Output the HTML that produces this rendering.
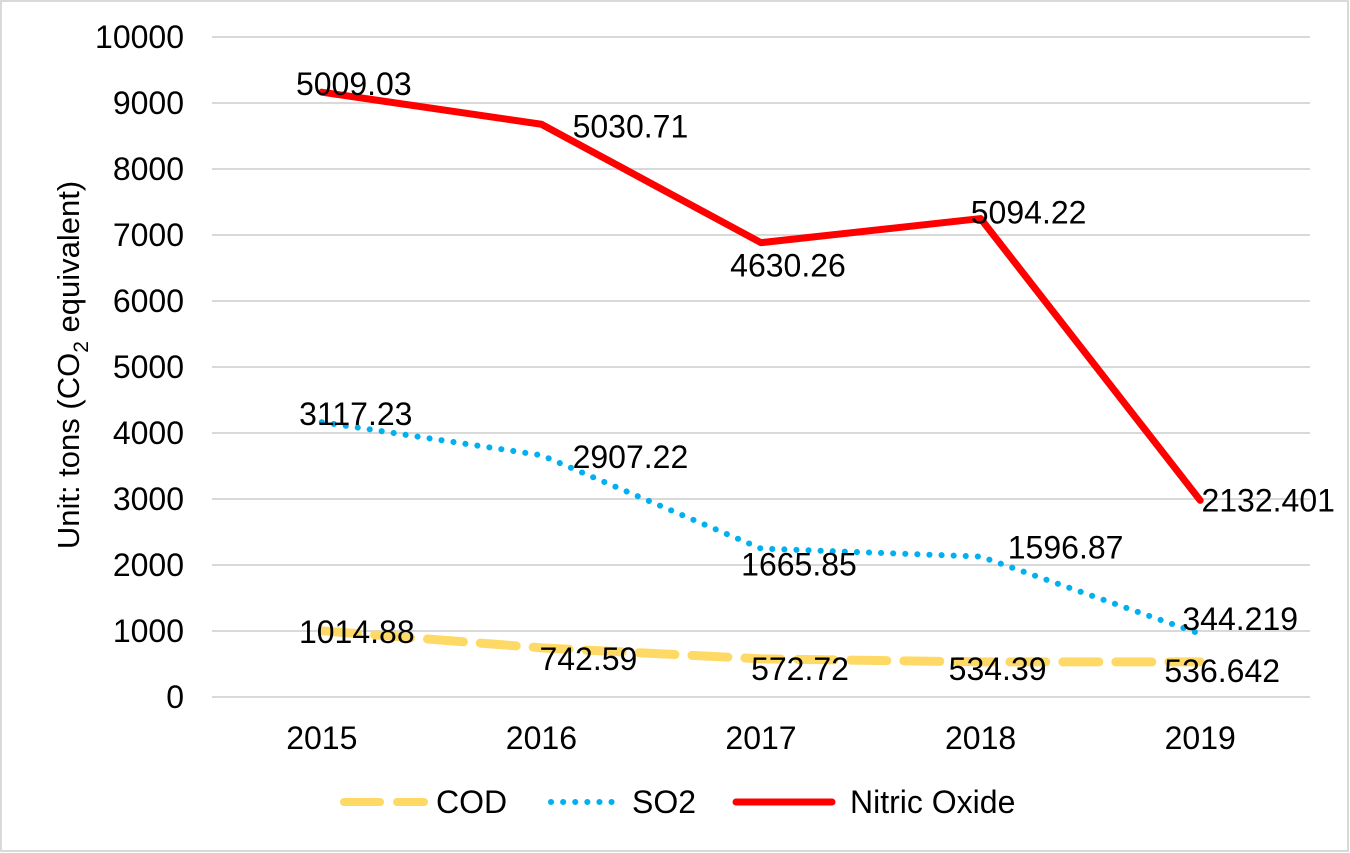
<!DOCTYPE html>
<html><head><meta charset="utf-8"><style>
html,body{margin:0;padding:0;background:#fff;}
svg{display:block;font-family:"Liberation Sans",Arial,sans-serif;}
</style></head><body>
<svg id="chart" width="1350" height="853" viewBox="0 0 1350 853">
<rect x="1" y="1" width="1347" height="850" fill="#fff" stroke="#d9d9d9" stroke-width="2"/>
<g id="grid"></g><g id="axes"></g><g id="series"></g><g id="labels"></g>
<text transform="translate(79,365) rotate(-90)" text-anchor="middle" font-size="31" fill="#000">Unit: tons (CO<tspan font-size="21" dy="9">2</tspan><tspan dy="-9"> equivalent)</tspan></text>
<g>
 <g>
  <line x1="344" y1="802" x2="424" y2="802" stroke="#FFD966" stroke-width="8" stroke-dasharray="36,17" stroke-linecap="round"/>
  <text x="436" y="813" font-size="32">COD</text></g>
 <g>
  <line x1="551" y1="802" x2="620" y2="802" stroke="#00B0F0" stroke-width="6" stroke-dasharray="0.1,12" stroke-linecap="round"/>
  <text x="632" y="813" font-size="32">SO2</text></g>
 <g>
  <line x1="736" y1="802" x2="832" y2="802" stroke="#FF0000" stroke-width="7" stroke-linecap="round"/>
  <text x="850" y="813" font-size="32">Nitric Oxide</text></g>
</g>
</svg>
<script>
const categories=["2015","2016","2017","2018","2019"];
const yTicks=[0,1000,2000,3000,4000,5000,6000,7000,8000,9000,10000];
const codValues=[1003,745,578,532,532];
const so2Values=[4164,3663,2249,2128,957];
const noxValues=[9164,8678,6884,7249,2979];
const codLabels=["1014.88","742.59","572.72","534.39","536.642"];
const so2Labels=["3117.23","2907.22","1665.85","1596.87","344.219"];
const noxLabels=["5009.03","5030.71","4630.26","5094.22","2132.401"];
const codOff=[[35,1],[47,11],[39,10],[17,7],[22,9]];
const so2Off=[[34,-8],[89,2],[38,16],[85,-9],[40,-15]];
const noxOff=[[32,-8],[89,2],[27,23],[48,-6],[68,0]];

const NS="http://www.w3.org/2000/svg";
const L=212,R=1310,T=37,B=697,YMAX=10000;
const band=(R-L)/categories.length;
const xs=i=>L+band*(i+0.5);
const ys=v=>B-(v/YMAX)*(B-T);
function mk(tag,attrs,parent){const e=document.createElementNS(NS,tag);for(const k in attrs)e.setAttribute(k,attrs[k]);parent.appendChild(e);return e;}
const grid=document.getElementById('grid'),axes=document.getElementById('axes'),series=document.getElementById('series'),labels=document.getElementById('labels');
yTicks.forEach(t=>{
 const ln=mk('line',{x1:L,x2:R,y1:ys(t),y2:ys(t),stroke:'#d9d9d9','stroke-width':2},grid);
 
 
 const tx=mk('text',{x:184,y:ys(t)+11,'text-anchor':'end','font-size':32,fill:'#000'},axes);
 tx.textContent=t;
 
 
});
categories.forEach((c,i)=>{
 const tx=mk('text',{x:xs(i),y:749,'text-anchor':'middle','font-size':32,fill:'#000'},axes);
 tx.textContent=c;
 
 
});
function drawSeries(vals,lbls,offs,name,style){
 const pts=vals.map((v,i)=>xs(i)+','+ys(v)).join(' ');
 const p=mk('polyline',Object.assign({points:pts,fill:'none'},style),series);
 
 
 vals.forEach((v,i)=>{
  const t=mk('text',{x:xs(i)+offs[i][0],y:ys(v)+offs[i][1]+11,'text-anchor':'middle','font-size':32,fill:'#000'},labels);
  t.textContent=lbls[i];
  
  
 });
}
drawSeries(codValues,codLabels,codOff,'cod',{stroke:'#FFD966','stroke-width':9,'stroke-dasharray':'36,17','stroke-linecap':'round'});
drawSeries(so2Values,so2Labels,so2Off,'so2',{stroke:'#00B0F0','stroke-width':6,'stroke-dasharray':'0.1,12','stroke-linecap':'round'});
drawSeries(noxValues,noxLabels,noxOff,'nitric-oxide',{stroke:'#FF0000','stroke-width':7,'stroke-linejoin':'round','stroke-linecap':'round'});
</script>
</body></html>
